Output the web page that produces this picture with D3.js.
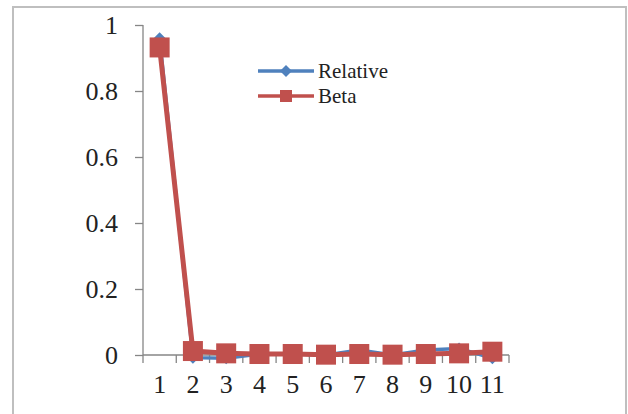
<!DOCTYPE html>
<html><head><meta charset="utf-8">
<script src="https://cdnjs.cloudflare.com/ajax/libs/d3/7.8.5/d3.min.js"></script>
<style>body{margin:0;background:#fff}svg{display:block}</style>
</head><body>
<svg id="c" width="628" height="414"></svg>
<script>
const categories = ["1","2","3","4","5","6","7","8","9","10","11"];
const relative = [0.96, -0.008, -0.01, 0.003, 0.003, 0.0, 0.015, 0.0, 0.015, 0.02, -0.01];
const beta = [0.932, 0.012, 0.005, 0.003, 0.003, 0.001, 0.003, 0.001, 0.003, 0.005, 0.01];
const yTicks = [0, 0.2, 0.4, 0.6, 0.8, 1];
const seriesNames = ["Relative", "Beta"];
const colors = ["#4F81BD", "#C0504D"];

const svg = d3.select("#c");
const font = "'Liberation Serif', 'DejaVu Serif', serif";

// border
svg.append("rect").attr("x", 13).attr("y", 7).attr("width", 613).attr("height", 420)
  .attr("fill", "none").attr("stroke", "#BFBFBF").attr("stroke-width", 2);

const x = d3.scaleBand().domain(categories).range([143, 509]);
const y = d3.scaleLinear().domain([0, 1]).range([355, 25]);

// y axis
const ya = svg.append("g").attr("transform", "translate(143,0)")
  .call(d3.axisLeft(y).tickValues(yTicks).tickSize(8).tickPadding(17).tickFormat(d => d3.format("")(d)));
ya.select(".domain").attr("stroke", "#868686").attr("stroke-width", 1.3).attr("d", "M0,25V355");
ya.selectAll(".tick line").attr("stroke", "#868686").attr("stroke-width", 1.3);
ya.selectAll("text").attr("font-family", font).attr("font-size", 26).attr("fill", "#222");

// x axis
const xa = svg.append("g").attr("transform", "translate(0,355)");
xa.append("line").attr("x1", 143).attr("x2", 509).attr("y1", 0).attr("y2", 0)
  .attr("stroke", "#868686").attr("stroke-width", 1.3);
const bounds = categories.map(c => x(c)).concat([x.range()[1]]);
xa.selectAll("line.tk").data(bounds).join("line").attr("class", "tk")
  .attr("x1", d => d).attr("x2", d => d).attr("y1", 0).attr("y2", 8)
  .attr("stroke", "#868686").attr("stroke-width", 1.3);
xa.selectAll("text").data(categories).join("text")
  .attr("x", d => x(d) + x.bandwidth() / 2).attr("y", 38)
  .attr("text-anchor", "middle").attr("font-family", font).attr("font-size", 26).attr("fill", "#222")
  .text(d => d);

const cx = d => x(d) + x.bandwidth() / 2;
const line = d3.line().x((d, i) => cx(categories[i])).y(d => y(d));

// Relative series
svg.append("path").datum(relative).attr("d", line).attr("fill", "none")
  .attr("stroke", colors[0]).attr("stroke-width", 3.5);
svg.selectAll("path.dm").data(relative).join("path").attr("class", "dm")
  .attr("transform", (d, i) => `translate(${cx(categories[i])},${y(d)})`)
  .attr("d", "M0,-6L6,0L0,6L-6,0Z").attr("fill", colors[0]);

// Beta series
svg.append("path").datum(beta).attr("d", line).attr("fill", "none")
  .attr("stroke", colors[1]).attr("stroke-width", 5);
svg.selectAll("rect.sq").data(beta).join("rect").attr("class", "sq")
  .attr("x", (d, i) => cx(categories[i]) - 10).attr("y", d => y(d) - 10)
  .attr("width", 20).attr("height", 20).attr("fill", colors[1]);

// legend
const lg = svg.append("g");
seriesNames.forEach((n, i) => {
  const ly = 71 + i * 25;
  lg.append("line").attr("x1", 258).attr("x2", 314).attr("y1", ly).attr("y2", ly)
    .attr("stroke", colors[i]).attr("stroke-width", 3.5);
  if (i === 0) {
    lg.append("path").attr("transform", `translate(286,${ly})`).attr("d", "M0,-6L6,0L0,6L-6,0Z").attr("fill", colors[0]);
  } else {
    lg.append("rect").attr("x", 280).attr("y", ly - 6).attr("width", 12).attr("height", 12).attr("fill", colors[1]);
  }
  lg.append("text").attr("x", 318).attr("y", ly + 7).attr("font-family", font).attr("font-size", 21)
    .attr("fill", "#222").text(n);
});
</script>
</body></html>
